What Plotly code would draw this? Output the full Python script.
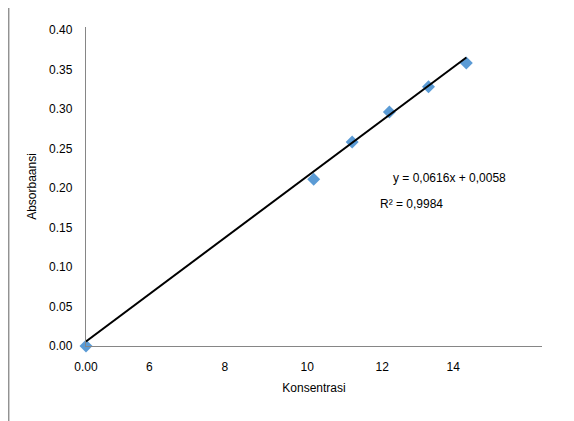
import plotly.graph_objects as go

# Data (x in the trendline's units, y = absorbance)
konsentrasi = [0.0, 3.49, 4.08, 4.65, 5.25, 5.83]
absorbansi = [0.000, 0.211, 0.258, 0.296, 0.328, 0.358]
slope = 0.0616
intercept = 0.0058
eq_text = "y = 0,0616x + 0,0058"
r2_text = "R² = 0,9984"
x_tick_vals = [0.0, 0.97, 2.13, 3.39, 4.54, 5.63]
x_tick_text = ["0.00", "6", "8", "10", "12", "14"]
y_tick_vals = [0.0, 0.05, 0.10, 0.15, 0.20, 0.25, 0.30, 0.35, 0.40]
y_tick_text = ["0.00", "0.05", "0.10", "0.15", "0.20", "0.25", "0.30", "0.35", "0.40"]

trend_x = [0.0, max(konsentrasi)]
trend_y = [slope * v + intercept for v in trend_x]

FONT = "Liberation Sans, Arial, sans-serif"
AX = "#868686"
FS = 12

fig = go.Figure()
fig.add_trace(go.Scatter(
    x=konsentrasi, y=absorbansi, mode="markers",
    marker=dict(symbol="diamond", size=10, color="#5B9BD5"),
    showlegend=False, cliponaxis=False,
))
fig.add_trace(go.Scatter(
    x=trend_x, y=trend_y, mode="lines",
    line=dict(color="black", width=2),
    showlegend=False, cliponaxis=False,
))

fig.add_annotation(x=4.68, y=0.212, xref="x", yref="y", text=eq_text,
                   showarrow=False, xanchor="left", yanchor="middle",
                   font=dict(family=FONT, size=FS, color="#000"))
fig.add_annotation(x=4.48, y=0.180, xref="x", yref="y", text=r2_text,
                   showarrow=False, xanchor="left", yanchor="middle",
                   font=dict(family=FONT, size=FS, color="#000"))

# left border of chart area
fig.add_shape(type="line", xref="paper", yref="paper",
              x0=-0.1694, x1=-0.1694, y0=-0.24, y1=1.06,
              line=dict(color=AX, width=1.3))

fig.update_layout(
    width=566, height=413,
    margin=dict(l=78, r=32, t=19, b=75),
    paper_bgcolor="white", plot_bgcolor="white",
    font=dict(family=FONT, size=FS, color="#000"),
    xaxis=dict(
        range=[0, 6.99], showgrid=False, zeroline=False, automargin=False,
        showline=True, linecolor=AX, linewidth=1.3,
        tickmode="array", tickvals=x_tick_vals, ticktext=x_tick_text,
        ticks="outside", ticklen=9, tickcolor="rgba(0,0,0,0)",
        tickfont=dict(family=FONT, size=FS),
        title=dict(text="Konsentrasi", font=dict(family=FONT, size=FS), standoff=11),
    ),
    yaxis=dict(
        range=[0, 0.4035], showgrid=False, zeroline=False, automargin=False,
        showline=True, linecolor=AX, linewidth=1.3,
        tickmode="array", tickvals=y_tick_vals, ticktext=y_tick_text,
        ticks="outside", ticklen=10, tickcolor="rgba(0,0,0,0)",
        tickfont=dict(family=FONT, size=FS),
        title=dict(text="Absorbaansi", font=dict(family=FONT, size=FS), standoff=9),
    ),
)

fig.write_html("out.html")
